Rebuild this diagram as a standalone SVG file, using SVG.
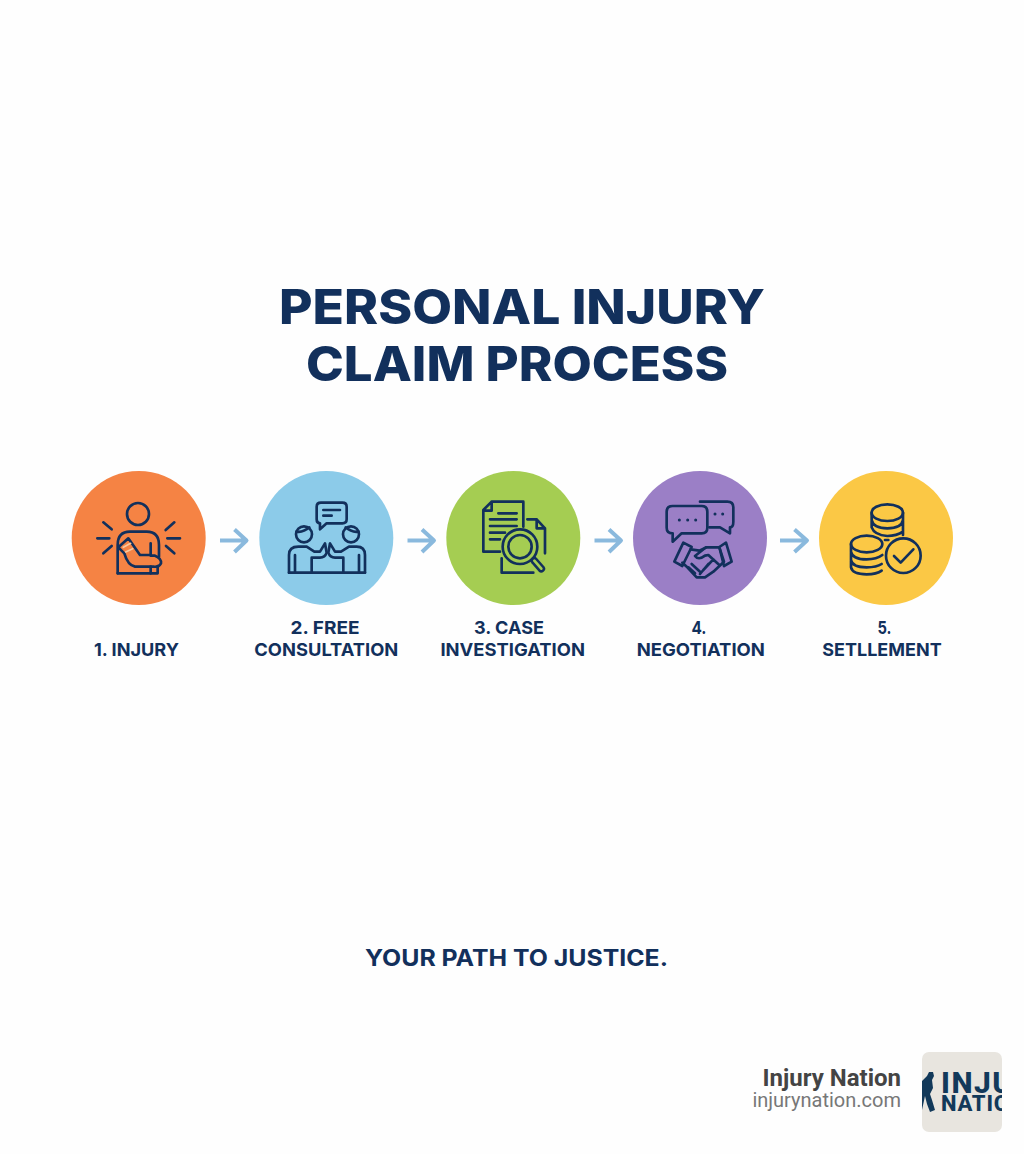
<svg xmlns="http://www.w3.org/2000/svg" width="1024" height="1154" viewBox="0 0 1024 1154">
<defs>
<style>
text{font-family:"Inter","Liberation Sans",sans-serif;font-weight:800;fill:#12305c;text-anchor:middle}
.title{font-size:47.500px}
.label{font-size:18px;font-weight:700}
.tag{font-size:23px;font-weight:700}
.ico{fill:none;stroke:#12305c;stroke-width:8;stroke-linecap:round;stroke-linejoin:round}
.arrow{fill:none;stroke:#8ab9dd;stroke-width:4;stroke-linejoin:round}
</style>
<clipPath id="logoClip"><rect x="922" y="1052" width="80" height="80" rx="7"/></clipPath>
</defs>
<rect id="background" width="1024" height="1154" fill="#fefefe"/>
<g id="title">
<text class="title" x="522" y="324" textLength="486" lengthAdjust="spacingAndGlyphs">PERSONAL INJURY</text>
<text class="title" x="517" y="380.500" textLength="422" lengthAdjust="spacingAndGlyphs">CLAIM PROCESS</text>
</g>
<g id="connectors">
<path class="arrow" d="M220 540.500H246M234.500 529.500L246.500 540.500L234.500 552"/>
<path class="arrow" d="M407.500 540.500H433.500M422 529.500L434 540.500L422 552"/>
<path class="arrow" d="M594.500 540.500H620.500M609 529.500L621 540.500L609 552"/>
<path class="arrow" d="M780 540.500H806.500M794.500 529.500L807 540.500L794.500 552"/>
</g>
<g id="step1">
<circle cx="138.700" cy="538" r="67" fill="#f58344"/>
<g class="ico" transform="translate(85 490) scale(.3333)">
<circle cx="159" cy="72" r="33"/>
<path d="M55 97L80 118M37 145H73M55 190L80 168M268 97L242 120M285 145H247M268 190L243 168"/>
<path d="M98 250V165Q98 125 135 125H185Q222 125 222 165V200"/>
<path d="M98 250H218V228"/>
<path d="M100 172L130 145L165 195H197V160M197 197H210Q230 205 228 220Q222 232 205 230H150Q128 225 118 190L100 172"/>
<path d="M115 172L137 160M122 186L143 176" stroke="#f6c9a0" stroke-width="5"/>
<path d="M197 230V250"/>
</g>
<text class="label" x="136.500" y="656" textLength="85" lengthAdjust="spacingAndGlyphs">1. INJURY</text>
</g>
<g id="step2">
<circle cx="326.300" cy="538" r="67" fill="#8ccbe9"/>
<g class="ico" transform="translate(275 490) scale(.3333)">
<path d="M138 38H202Q215 38 215 50V88Q215 100 202 100H155L135 118V100Q125 100 125 88V50Q125 38 138 38Z"/>
<path d="M145 60H195M145 77H170"/>
<circle cx="87" cy="133" r="24"/>
<path d="M65 125Q85 128 103 112"/>
<circle cx="228" cy="133" r="24"/>
<path d="M250 125Q230 128 212 112"/>
<path d="M42 248V195Q42 170 70 170H95L118 185H135L150 160L155 188Q150 203 135 203H110V248"/>
<path d="M270 248V195Q270 170 245 170H222L198 185H180L165 160L160 188Q165 203 180 203H205V248"/>
<path d="M60 195V248M252 195V248M42 248H270"/>
</g>
<text class="label" x="325" y="634" textLength="69" lengthAdjust="spacingAndGlyphs">2. FREE</text>
<text class="label" x="326.300" y="656" textLength="144" lengthAdjust="spacingAndGlyphs">CONSULTATION</text>
</g>
<g id="step3">
<circle cx="513.300" cy="538" r="67" fill="#a5cd52"/>
<g class="ico" transform="translate(465 490) scale(.3333)">
<path d="M175 110V35H80L55 60V185H105M80 35V62H55"/>
<path d="M100 70H155M75 88H155M75 108H155M75 128H120M75 148H105"/>
<path d="M187 88H215L240 115V190M215 88V115H240M110 205V248H205"/>
<circle cx="165" cy="170" r="52"/>
<circle cx="165" cy="170" r="35"/>
<path d="M208 212L229 236" stroke-width="23"/>
<path d="M208 212L229 236" stroke="#a5cd52" stroke-width="8"/>
</g>
<text class="label" x="509" y="634" textLength="70" lengthAdjust="spacingAndGlyphs">3. CASE</text>
<text class="label" x="512.700" y="656" textLength="144.500" lengthAdjust="spacingAndGlyphs">INVESTIGATION</text>
</g>
<g id="step4">
<circle cx="700" cy="538" r="67" fill="#9b7fc6"/>
<g class="ico" transform="translate(650 490) scale(.3333)">
<path d="M68 48H155Q172 48 172 65V113Q172 130 155 130H95L68 155V130Q50 130 50 113V65Q50 48 68 48Z"/>
<path d="M150 35H232Q250 35 250 52V95Q250 112 240 112V130L210 112H178"/>
<path d="M88 90H88.100M113 90H113.100M137 90H137.100M195 72H195.100M218 72H218.100" stroke-width="9"/>
<path d="M100 158L125 171L97 228L73 215ZM208 171L228 158L245 215L222 228Z"/>
<path d="M122 178L148 182L170 172H208L222 215L190 245L165 262H140L112 232L97 218"/>
<path d="M168 172L135 198Q145 212 165 197L175 195L208 225M190 208L160 240M175 222L150 252M115 232L135 250M125 222L150 245"/>
</g>
<text class="label" x="699" y="634" textLength="15" lengthAdjust="spacingAndGlyphs">4.</text>
<text class="label" x="700.800" y="656" textLength="128.300" lengthAdjust="spacingAndGlyphs">NEGOTIATION</text>
</g>
<g id="step5">
<circle cx="886" cy="538" r="67" fill="#fbc845"/>
<g class="ico" transform="translate(835 490) scale(.3333)">
<ellipse cx="157" cy="68" rx="47" ry="25"/>
<path d="M110 68V90Q115 115 157 115Q200 115 204 90V68M110 92V112Q118 135 157 138Q185 138 204 125V92M204 112V135M150 150H160"/>
<ellipse cx="95" cy="162" rx="47" ry="25"/>
<path d="M48 162V185Q52 208 95 208Q125 208 142 195M48 187V210Q52 232 95 232Q125 232 140 222M48 212V232Q52 253 95 253Q125 253 140 242"/>
<circle cx="205" cy="197" r="52"/>
<path d="M177 198L197 218L235 178"/>
</g>
<text class="label" x="884.500" y="634" textLength="14" lengthAdjust="spacingAndGlyphs">5.</text>
<text class="label" x="882" y="656" textLength="119.300" lengthAdjust="spacingAndGlyphs">SETLLEMENT</text>
</g>
<g id="tagline">
<text class="tag" x="516.500" y="966" textLength="303" lengthAdjust="spacingAndGlyphs">YOUR PATH TO JUSTICE.</text>
</g>
<g id="footer">
<text x="901" y="1086" style="font-family:Roboto,'Liberation Sans',sans-serif;font-size:24px;font-weight:700;fill:#444;text-anchor:end">Injury Nation</text>
<text x="901" y="1107" style="font-family:Roboto,'Liberation Sans',sans-serif;font-size:20px;font-weight:400;fill:#777;text-anchor:end">injurynation.com</text>
</g>
<g id="logo">
<rect x="922" y="1052" width="80" height="80" rx="7" fill="#e8e5df"/>
<g clip-path="url(#logoClip)">
<path d="M922 1081L927 1076L929 1072L933 1072L934 1076L932 1080L933 1088L930 1094L932 1100L935 1110L930 1112L927 1104L925 1096L922 1110Z" fill="#12395a"/>
<text x="941" y="1093" style="font-family:Roboto,'Liberation Sans',sans-serif;font-size:30px;fill:#12395a;text-anchor:start;letter-spacing:1.500px">INJU</text>
<text x="941" y="1110.500" style="font-family:Roboto,'Liberation Sans',sans-serif;font-size:22px;fill:#12395a;text-anchor:start;letter-spacing:.8px">NATIO</text>
</g>
</g>
</svg>
